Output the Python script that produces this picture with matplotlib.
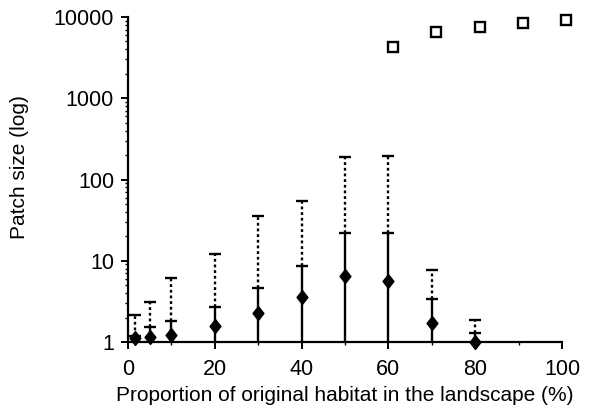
import matplotlib
matplotlib.use("Agg")
import matplotlib.pyplot as plt
import numpy as np
from matplotlib.path import Path

# ---- data ----
habitat = [1.5, 5, 10, 20, 30, 40, 50, 60, 70, 80]
mean_size = [1.11, 1.16, 1.22, 1.57, 2.3, 3.55, 6.4, 5.7, 1.73, 1.0]
sd_upper = [1.2, 1.54, 1.83, 2.72, 4.66, 8.7, 21.8, 21.8, 3.38, 1.28]
max_size = [2.15, 3.13, 6.2, 12.1, 35.8, 54.8, 187, 194, 7.7, 1.87]

perc_x = [61, 71, 81, 91, 101]
perc_size = [4300, 6460, 7530, 8500, 9190]

xticks = [0, 20, 40, 60, 80, 100]
yticks = [1, 10, 100, 1000, 10000]
ytick_labels = ["1", "10", "100", "1000", "10000"]

plt.rcParams['font.family'] = ['Liberation Sans', 'DejaVu Sans']

fig = plt.figure(figsize=(5.9, 4.19), dpi=100)
ax = fig.add_axes([128/590, 1-342/419, 434/590, 325/419])

ax.set_yscale('log')
ax.set_xlim(0, 100)
ax.set_ylim(1, 10000)

base = [1.0] * len(habitat)
# solid bars from 1 to upper sd
ax.vlines(habitat, base, sd_upper, colors='black', linewidth=1.7, clip_on=False, zorder=2)
# dotted bars from sd to max
ax.vlines(habitat, sd_upper, max_size, colors='black', linewidth=1.7,
          linestyles=(0, (1.2, 1.2)), clip_on=False, zorder=2)
# caps
ax.plot(habitat, sd_upper, linestyle='none', marker='_', markersize=8,
        markeredgewidth=1.7, color='black', clip_on=False, zorder=3)
ax.plot(habitat, max_size, linestyle='none', marker='_', markersize=8,
        markeredgewidth=1.7, color='black', clip_on=False, zorder=3)

# tall diamond marker
diamond = Path([(0, 1), (0.78, 0), (0, -1), (-0.78, 0), (0, 1)],
               [Path.MOVETO, Path.LINETO, Path.LINETO, Path.LINETO, Path.CLOSEPOLY])
ax.plot(habitat, mean_size, linestyle='none', marker=diamond, markersize=10,
        color='black', clip_on=False, zorder=4)

ax.plot(perc_x, perc_size, linestyle='none', marker='s', markersize=6.5,
        markerfacecolor='white', markeredgecolor='black', markeredgewidth=1.7,
        clip_on=False, zorder=4)

for s in ['top', 'right']:
    ax.spines[s].set_visible(False)
for s in ['left', 'bottom']:
    ax.spines[s].set_linewidth(1.6)

ax.set_xticks(xticks)
ax.set_xticklabels([str(t) for t in xticks])
ax.set_xticks(np.arange(10, 100, 20), minor=True)
ax.set_yticks(yticks)
ax.set_yticklabels(ytick_labels)
ax.tick_params(axis='both', which='major', direction='out', length=5, width=1.4,
               labelsize=15.5, colors='black')
ax.tick_params(axis='x', which='major', pad=7)
ax.tick_params(axis='y', which='major', pad=5)
ax.tick_params(axis='both', which='minor', direction='out', length=2.5, width=1.0)
ax.yaxis.set_minor_formatter(matplotlib.ticker.NullFormatter())

ax.set_xlabel("Proportion of original habitat in the landscape (%)", fontsize=15)
ax.set_ylabel("Patch size (log)", fontsize=15)
ax.xaxis.set_label_coords(0.5, -0.135)
ax.yaxis.set_label_coords(-0.228, 0.537)

fig.savefig("out.png", dpi=100, facecolor='white')
